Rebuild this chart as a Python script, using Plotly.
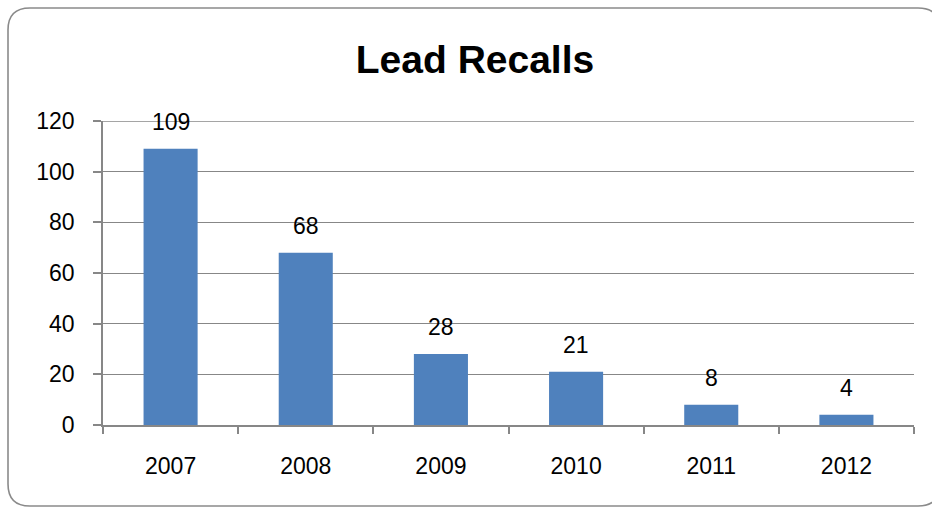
import plotly.graph_objects as go

years = ["2007", "2008", "2009", "2010", "2011", "2012"]
recalls = [109, 68, 28, 21, 8, 4]
y_ticks = [0, 20, 40, 60, 80, 100, 120]

W, H = 932, 507
L, R, T, B = 103, 914, 121, 425  # plot area in px
pw, ph = R - L, B - T

FONT = "Liberation Sans"
GRID = "#878787"

fig = go.Figure()
fig.add_trace(go.Bar(x=years, y=recalls, marker=dict(color="#4F81BD", line=dict(width=0)),
                     hoverinfo="x+y"))

for i, v in enumerate(recalls):
    fig.add_annotation(x=i, y=v, text=str(v), showarrow=False, yanchor="middle",
                       yshift=27, font=dict(family=FONT, size=23, color="#000"))

# top gridline (at the range end, which plotly does not draw)
fig.add_shape(type="line", xref="paper", yref="y", x0=0, x1=1, y0=y_ticks[-1], y1=y_ticks[-1],
              line=dict(color=GRID, width=1.3), layer="below")

# rounded frame (px -> paper)
def px(x):
    return (x - L) / pw
def py(y):
    return 1 - (y - T) / ph

x0, y0, x1, y1, r = 8, 8, 940, 506, 22
path = (f"M {px(x0)},{py(y0 + r)} Q {px(x0)},{py(y0)} {px(x0 + r)},{py(y0)} "
        f"L {px(x1 - r)},{py(y0)} Q {px(x1)},{py(y0)} {px(x1)},{py(y0 + r)} "
        f"L {px(x1)},{py(y1 - r)} Q {px(x1)},{py(y1)} {px(x1 - r)},{py(y1)} "
        f"L {px(x0 + r)},{py(y1)} Q {px(x0)},{py(y1)} {px(x0)},{py(y1 - r)} Z")
fig.add_shape(type="path", path=path, xref="paper", yref="paper",
              line=dict(color="#8a8a8a", width=1.6), fillcolor="rgba(0,0,0,0)", layer="below")

fig.update_layout(
    width=W, height=H,
    margin=dict(l=L, r=W - R, t=T, b=H - B, pad=0, autoexpand=False),
    paper_bgcolor="white", plot_bgcolor="white",
    showlegend=False, bargap=0.6,
    title=dict(text="<b>Lead Recalls</b>", x=475 / W, xref="container", xanchor="center",
               y=1 - 59 / H, yref="container", yanchor="middle",
               font=dict(family=FONT, size=39, color="#000")),
    font=dict(family=FONT, size=23, color="#000"),
)
fig.update_xaxes(type="category", range=[-0.5, len(years) - 0.5], automargin=False,
                 showgrid=False, showline=True, linecolor=GRID, linewidth=1.5,
                 ticks="outside", tickson="boundaries", ticklen=7, tickwidth=1.5, tickcolor=GRID,
                 ticklabelstandoff=20, tickangle=0,
                 tickfont=dict(family=FONT, size=23, color="#000"))
fig.update_yaxes(range=[0, 120], tickvals=y_ticks, automargin=False,
                 showgrid=True, gridcolor=GRID, gridwidth=1.3,
                 showline=True, linecolor=GRID, linewidth=1.5, zeroline=False,
                 ticks="outside", ticklen=8, tickwidth=1.5, tickcolor=GRID,
                 ticklabelstandoff=14, tickfont=dict(family=FONT, size=23, color="#000"))

fig.write_html("out.html", config={"displayModeBar": False},
               post_script="document.body.style.margin='0';document.body.style.overflow='hidden';")
